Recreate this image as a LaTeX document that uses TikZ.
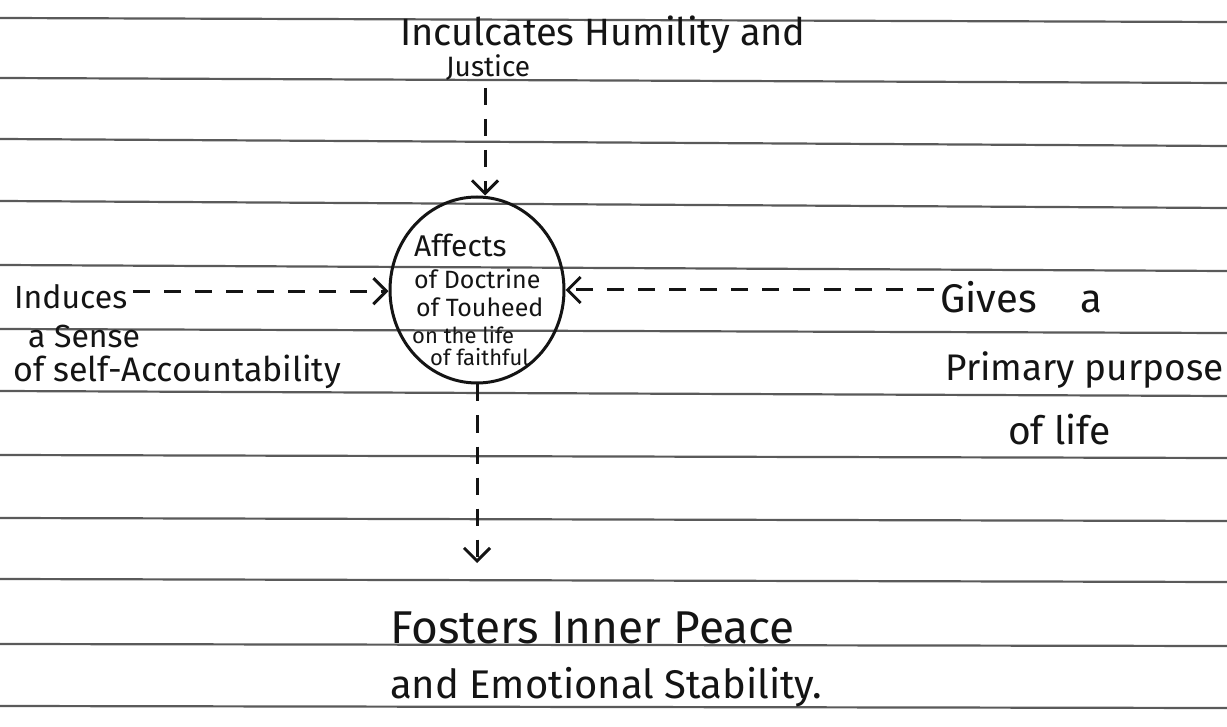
\documentclass[tikz,border=0pt]{standalone}
\usepackage{fontspec}
\setmainfont{Fira Sans}
\usetikzlibrary{arrows.meta,shapes.geometric}
\definecolor{ink}{HTML}{141414}
\definecolor{rule}{HTML}{5A5A5A}
\tikzset{
  ruleline/.style={draw=rule, line width=2.2pt},
  pen/.style={draw=ink, line width=3pt},
  conn/.style={pen, dash pattern=on 17pt off 14pt, -{Straight Barb[length=13pt,width=26pt]}},
  txt/.style={inner sep=0pt, anchor=base west, text=ink},
}
\newcommand{\fs}[1]{\fontsize{#1}{#1}\selectfont}
\begin{document}
\begin{tikzpicture}[x=1pt,y=-1pt]
\useasboundingbox[fill=white] (0,0) rectangle (1227,727);
% ruled lines
\foreach \a/\b in {18/22,78/83,139/146,201/208,265/271,329/333,391/396,455/458,518/521,579/582,644/646,706/708}
  \draw[ruleline] (0,\a) -- (1227,\b);
% central ellipse
\node[pen, ellipse, minimum width=174pt, minimum height=186pt, inner sep=0pt] (c) at (477,290) {};
\node[txt] (c1) at (414,257) {\fs{30}Affects};
\node[txt] (c2) at (414,289) {\fs{25}of Doctrine};
\node[txt] (c3) at (416,317) {\fs{25}of Touheed};
\node[txt] (c4) at (412,344) {\fs{22}on the life};
\node[txt] (c5) at (430,366) {\fs{22}of faithful};
% top
\node[txt] (t1) at (400,46) {\fs{38}Inculcates Humility and};
\node[txt] (t2) at (446,77) {\fs{28}Justice};
\coordinate (ts) at (485,88);
% left
\node[txt] (l1) at (14,309) {\fs{32}Induces};
\node[txt] (l2) at (28,348) {\fs{32}a Sense};
\node[txt] (l3) at (13,382) {\fs{34}of self-Accountability};
% right
\node[txt] (r1) at (940,313) {\fs{40}Gives\hspace{1.1em}a};
\node[txt] (r2) at (945,381) {\fs{37}Primary purpose};
\node[txt] (r3) at (1008,444) {\fs{39}of life};
% bottom
\node[txt] (b1) at (390,643) {\fs{46}Fosters Inner Peace};
\node[txt] (b2) at (390,698) {\fs{40}and Emotional Stability.};
\coordinate (be) at (477,563);
% connectors
\draw[conn] (ts) -- (ts |- c.north);
\draw[conn] (l1.east) ++(6,-6) coordinate (ls) (ls) -- (c.west |- ls);
\draw[conn] ([xshift=-6pt]r1.west |- c.center) coordinate (rs) -- (c.east);
\draw[conn] (c.south) -- (be);
\end{tikzpicture}
\end{document}
